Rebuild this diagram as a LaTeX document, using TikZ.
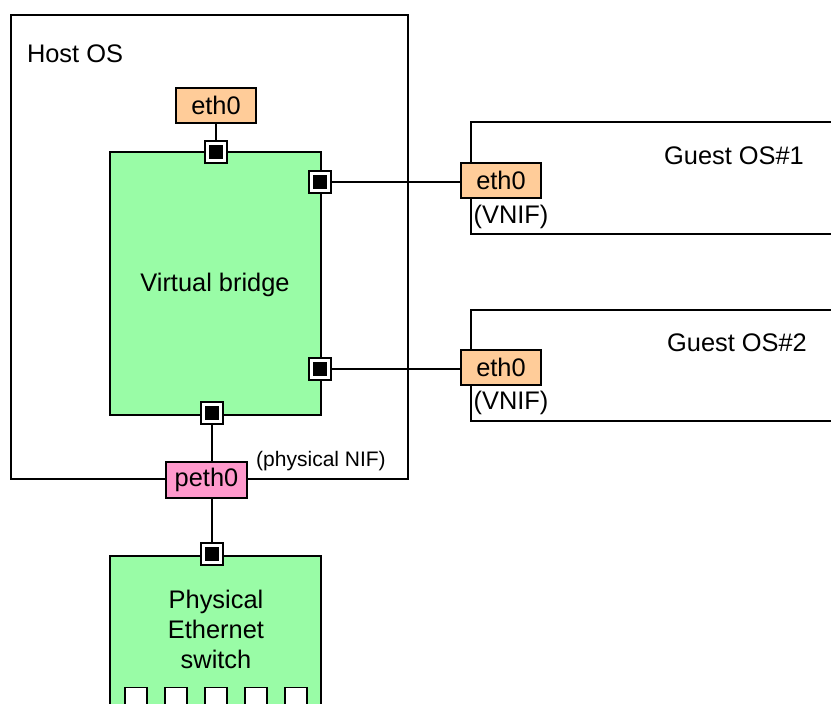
\documentclass[tikz,border=0pt]{standalone}
\usepackage{fontspec}
\setmainfont{Liberation Sans}
\definecolor{bridgegreen}{RGB}{153,252,166}
\definecolor{ifaceorange}{RGB}{255,204,153}
\definecolor{ifacepink}{RGB}{255,153,204}
\tikzset{
  frame/.style={draw=black, line width=0.8pt, rectangle, inner sep=0pt},
  greenbox/.style={frame, fill=bridgegreen},
  iface/.style={frame, fill=ifaceorange, minimum width=40pt, minimum height=17.5pt},
  piface/.style={frame, fill=ifacepink, minimum width=40.5pt, minimum height=18pt},
  portout/.style={draw=black, line width=0.6pt, fill=white, minimum size=11pt, inner sep=0pt},
  portin/.style={fill=black, minimum size=7pt, inner sep=0pt},
  conn/.style={draw=black, line width=0.8pt},
  swport/.style={draw=black, line width=0.8pt, fill=white, minimum width=11pt, minimum height=14pt, inner sep=0pt},
  small/.style={font=\fontsize{10.5}{12}\selectfont}
}
\begin{document}
\begin{tikzpicture}[x=0.5pt,y=-0.5pt, font=\fontsize{12.7}{15}\selectfont]
\useasboundingbox (0,0) rectangle (831,704);
% Host OS
\node[frame, minimum width=198.5pt, minimum height=232pt] (host) at (209.5,247) {};
\node (hostlbl) at (75,54) {Host OS};
% Guest OS frames (open to the right)
\coordinate (g1tl) at (471,122);
\coordinate (g1bl) at (471,234);
\draw[conn] (g1tl -| 840,0) -- (g1tl) -- (g1bl) -- (g1bl -| 840,0);
\coordinate (g2tl) at (471,310);
\coordinate (g2bl) at (471,421);
\draw[conn] (g2tl -| 840,0) -- (g2tl) -- (g2bl) -- (g2bl -| 840,0);
\node (g1lbl) at (734,156) {Guest OS\#1};
\node (g2lbl) at (737,343) {Guest OS\#2};
% Virtual bridge
\node[greenbox, minimum width=105.5pt, minimum height=131.5pt] (bridge) at (215.5,283.5) {};
\node (bridgelbl) at (215,285) {Virtual bridge};
% Physical switch
\node[greenbox, minimum width=105.5pt, minimum height=82pt] (switch) at (215.5,638) {};
\node[align=center] (switchlbl) at (216,629) {Physical\\Ethernet\\switch};
\foreach \i/\x in {1/136,2/176,3/216,4/256,5/296}{
  \node[swport] (sp\i) at (\x,701.5) {};
}
% Interfaces
\node[iface] (eth0h) at (216,105.5) {eth0};
\node[iface] (g1eth) at (501,180.5) {eth0};
\node[iface] (g2eth) at (501,367.5) {eth0};
\node (vnif1) at (511,217) {(VNIF)};
\node (vnif2) at (511,403) {(VNIF)};
% Ports
\foreach \n/\x/\y in {p1/216/152, p2/320/182, p3/320/369, p4/212/413, p5/212/554}{
  \node[portout] (\n) at (\x,\y) {};
  \node[portin] at (\n) {};
}
% Connectors
\draw[conn] (eth0h.south) -- (p1.north);
\draw[conn] (p2.east) -- (p2 -| g1eth.west);
\draw[conn] (p3.east) -- (p3 -| g2eth.west);
% peth0
\node[piface] (peth) at (206.5,480) {peth0};
\node[small] (physlbl) at (321,461) {(physical NIF)};
\draw[conn] (p4.south) -- (p4 |- peth.north);
\draw[conn] (p5 |- peth.south) -- (p5.north);
\end{tikzpicture}
\end{document}
